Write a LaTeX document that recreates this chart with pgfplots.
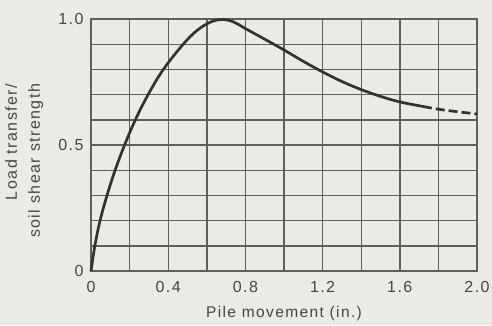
\documentclass[border=0pt]{standalone}
\usepackage{pgfplots}
\pgfplotsset{compat=1.18}
\usepackage{fontspec}
\setmainfont{Liberation Sans}[LetterSpace=9]
\definecolor{paper}{RGB}{236,234,229}
\definecolor{gridc}{RGB}{95,95,95}
\definecolor{curvec}{RGB}{50,50,50}
\definecolor{textc}{RGB}{70,70,70}
\begin{document}
\begin{tikzpicture}
\useasboundingbox (-91pt,-54pt) rectangle (401pt,271pt);
\fill[paper] (-91pt,-54pt) rectangle (401pt,271pt);
\begin{axis}[
  at={(0pt,0pt)}, anchor=south west,
  scale only axis, width=386pt, height=252pt,
  xmin=0, xmax=2.0, ymin=0, ymax=1.0,
  clip=false,
  xtick={0,0.4,0.8,1.2,1.6,2.0},
  xticklabels={0,0.4,0.8,1.2,1.6,2.0},
  minor xtick={0.2,0.6,1.0,1.4,1.8},
  ytick={0,0.5,1.0},
  yticklabels={0,0.5,1.0},
  minor ytick={0.1,0.2,0.3,0.4,0.6,0.7,0.8,0.9},
  grid=both,
  major grid style={draw=gridc, line width=1.4pt},
  minor grid style={draw=gridc, line width=1.4pt},
  axis line style={draw=gridc, line width=1.5pt},
  major tick length=0pt, minor tick length=0pt,
  tick label style={font=\fontsize{16}{19}\selectfont, text=textc},
  xticklabel style={yshift=-7pt},
  yticklabel style={xshift=-4pt},
  xlabel={Pile movement (in.)},
  xlabel style={font=\fontsize{15.5}{18}\selectfont, text=textc, at={(axis description cs:0.5,0)}, anchor=center, yshift=-42pt},
  ylabel={Load transfer/\\soil shear strength},
  ylabel style={font=\fontsize{16}{23}\selectfont, text=textc, align=right, at={(axis description cs:-0.173,0.437)}, anchor=center, rotate=0},
]
\addplot[curvec, line width=2.7pt, smooth, tension=0.6] coordinates {
(0,0) (0.02,0.10) (0.047,0.20) (0.083,0.30) (0.125,0.40) (0.174,0.50) (0.230,0.60) (0.296,0.70) (0.375,0.80) (0.478,0.90) (0.55,0.955) (0.62,0.988) (0.68,0.998) (0.74,0.988) (0.80,0.962) (0.90,0.920) (1.0,0.877) (1.1,0.832) (1.2,0.790) (1.3,0.752) (1.4,0.720) (1.5,0.693) (1.6,0.671) (1.72,0.653)
};
\addplot[curvec, line width=2.7pt, dash pattern=on 9pt off 4pt, smooth] coordinates {
(1.72,0.653) (1.8,0.642) (1.9,0.632) (2.0,0.623)
};
\end{axis}
\end{tikzpicture}
\end{document}
